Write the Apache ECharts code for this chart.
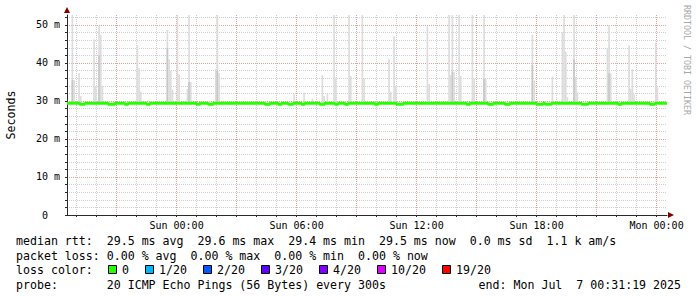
<!DOCTYPE html>
<html><head><meta charset="utf-8">
<script src="https://cdn.jsdelivr.net/npm/echarts@6/dist/echarts.min.js"></script>
<style>html,body{margin:0;padding:0;background:#fff}#c{width:697px;height:297px}</style>
</head><body><div id="c"></div>
<script>
// ---------- data ----------
const dayDate = { Sat: '2025-07-05', Sun: '2025-07-06', Mon: '2025-07-07' };
const startTime = 'Sat 18:31:19';
const endTime = 'Mon 00:31:19';
const yMax = 52.63;               // ms, top of plot
const yMajorTicks = [0, 10, 20, 30, 40, 50];
const yMinorTicks = [2, 4, 6, 8, 12, 14, 16, 18, 22, 24, 26, 28, 32, 34, 36, 38, 42, 44, 46, 48, 52];
const xLabelTimes = ['Sun 00:00', 'Sun 06:00', 'Sun 12:00', 'Sun 18:00', 'Mon 00:00'];
const xMajorTimes = ['Sat 21:00', 'Sun 00:00', 'Sun 03:00', 'Sun 06:00', 'Sun 09:00', 'Sun 12:00', 'Sun 15:00', 'Sun 18:00', 'Sun 21:00', 'Mon 00:00'];
const xMinorTimes = ['Sat 19:00', 'Sat 20:00', 'Sat 22:00', 'Sat 23:00', 'Sun 01:00', 'Sun 02:00', 'Sun 04:00', 'Sun 05:00', 'Sun 07:00', 'Sun 08:00', 'Sun 10:00', 'Sun 11:00', 'Sun 13:00', 'Sun 14:00', 'Sun 16:00', 'Sun 17:00', 'Sun 19:00', 'Sun 20:00', 'Sun 22:00', 'Sun 23:00'];

const stepMinutes = 5;            // rrd step (300 s)
const smokeBase = 29.4;           // ms, lowest ping
const smokeTime = ['Sat 18:45', 'Sat 18:50', 'Sat 19:05', 'Sat 19:10', 'Sat 19:50', 'Sat 19:55', 'Sat 20:05', 'Sat 20:10', 'Sat 20:15', 'Sat 22:00', 'Sat 22:05', 'Sat 22:10', 'Sat 23:30', 'Sat 23:35', 'Sat 23:40', 'Sat 23:45',
  'Sun 00:00', 'Sun 00:05', 'Sun 00:30', 'Sun 00:35', 'Sun 00:40', 'Sun 01:55', 'Sun 02:00', 'Sun 02:05', 'Sun 05:50', 'Sun 06:20', 'Sun 06:45', 'Sun 07:15', 'Sun 07:20', 'Sun 07:30', 'Sun 07:50', 'Sun 07:55',
  'Sun 08:35', 'Sun 08:40', 'Sun 09:15', 'Sun 09:20', 'Sun 10:35', 'Sun 10:40', 'Sun 10:50', 'Sun 10:55', 'Sun 12:30', 'Sun 12:35', 'Sun 13:35', 'Sun 13:40', 'Sun 13:45', 'Sun 13:50', 'Sun 14:05', 'Sun 14:10',
  'Sun 14:45', 'Sun 14:50', 'Sun 15:20', 'Sun 15:25', 'Sun 17:45', 'Sun 17:50', 'Sun 18:45', 'Sun 19:15', 'Sun 19:20', 'Sun 19:25', 'Sun 19:30', 'Sun 19:50', 'Sun 19:55', 'Sun 20:00', 'Sun 21:30', 'Sun 21:35',
  'Sun 21:40', 'Sun 22:35', 'Sun 22:40', 'Sun 22:45', 'Sun 22:50', 'Sun 23:55', 'Mon 00:00'];
const smokeTop = [52.6, 35.5, 37.4, 31.3, 46.2, 33.9, 49.8, 47.4, 34, 44.7, 38.6, 32.5, 48.7, 41, 38, 33,
  52.6, 37, 33.2, 52.6, 35, 38.4, 52.6, 37.4, 31.8, 32.2, 30.6, 36.8, 31.3, 31.8, 52.6, 36.2,
  52.6, 36.6, 52.6, 36, 41, 32.4, 47, 34, 49.6, 34.5, 52.6, 36.8, 52.6, 37.7, 52.6, 36.6,
  52.6, 35.9, 52.6, 35.8, 47.4, 35.4, 36.4, 48.2, 52.6, 43, 31, 52.6, 36.4, 32.3, 44, 50,
  37.3, 44.6, 33.2, 38.4, 31.8, 45.4, 33.5];
const smokeDark = [35.5, 0, 0, 0, 0, 0, 42, 0, 0, 0, 0, 0, 44, 0, 0, 0,
  0, 0, 0, 35, 0, 0, 38, 0, 0, 0, 0, 0, 0, 0, 0, 0,
  0, 0, 0, 0, 0, 0, 0, 0, 0, 0, 0, 0, 37.7, 0, 0, 0,
  0, 0, 35.8, 0, 39.5, 0, 0, 0, 0, 0, 0, 41, 0, 0, 0, 37.3,
  0, 0, 0, 0, 0, 0, 0];

const medianTime = ['Sat 18:31', 'Sat 19:10', 'Sat 19:25', 'Sat 20:35', 'Sat 20:55', 'Sat 21:25', 'Sat 21:35', 'Sat 22:30', 'Sat 22:40', 'Sun 01:00', 'Sun 01:10', 'Sun 01:35', 'Sun 01:50', 'Sun 04:25', 'Sun 04:40', 'Sun 05:05',
  'Sun 05:15', 'Sun 05:35', 'Sun 05:50', 'Sun 06:15', 'Sun 06:25', 'Sun 07:10', 'Sun 07:25', 'Sun 07:55', 'Sun 08:05', 'Sun 08:25', 'Sun 08:35', 'Sun 09:55', 'Sun 10:05', 'Sun 11:00', 'Sun 11:20', 'Sun 14:30',
  'Sun 14:40', 'Sun 15:35', 'Sun 15:50', 'Sun 16:25', 'Sun 16:40', 'Sun 18:00', 'Sun 18:20', 'Sun 18:25', 'Sun 18:45', 'Sun 20:15', 'Sun 20:35', 'Sun 22:05', 'Sun 22:15', 'Sun 23:40', 'Sun 23:55', 'Mon 00:31'];
const medianValue = [29.4, 29.15, 29.4, 29.15, 29.4, 29.15, 29.4, 29.15, 29.4, 29.15, 29.4, 29.15, 29.4, 29.15, 29.4, 29.15,
  29.4, 29.15, 29.4, 29.15, 29.4, 29.15, 29.4, 29.15, 29.4, 29.15, 29.4, 29.15, 29.4, 29.15, 29.4, 29.15,
  29.4, 29.15, 29.4, 29.15, 29.4, 29.15, 29.4, 29.15, 29.4, 29.15, 29.4, 29.15, 29.4, 29.15, 29.4, 29.4];

const lossLabels = ['0', '1/20', '2/20', '3/20', '4/20', '10/20', '19/20'];
const lossColors = ['#26ff00', '#00b8ff', '#0059ff', '#5e00ff', '#7e00ff', '#dd00ff', '#ff0000'];

const legendLine1 = 'median rtt:  29.5 ms avg  29.6 ms max  29.4 ms min  29.5 ms now  0.0 ms sd  1.1 k am/s';
const legendLine2 = 'packet loss: 0.00 % avg  0.00 % max  0.00 % min  0.00 % now';
const legendLossTitle = 'loss color:';
const legendProbe = 'probe:       20 ICMP Echo Pings (56 Bytes) every 300s';
const legendEnd = 'end: Mon Jul  7 00:31:19 2025';
const yAxisTitle = 'Seconds';
const watermark = 'RRDTOOL / TOBI OETIKER';

// ---------- helpers ----------
const dayNames = ['Sun', 'Mon', 'Tue', 'Wed', 'Thu', 'Fri', 'Sat'];
function T(s) {
  const [day, clock] = s.split(' ');
  const [Y, M, D] = dayDate[day].split('-').map(Number);
  const [h, m, sec] = clock.split(':').map(Number);
  return Date.UTC(Y, M - 1, D, h, m, sec || 0);
}
function pad(n) { return (n < 10 ? '0' : '') + n; }
function fmtX(v) {
  const d = new Date(v);
  return dayNames[d.getUTCDay()] + ' ' + pad(d.getUTCHours()) + ':' + pad(d.getUTCMinutes());
}
const STEP = stepMinutes * 60000;
const tMin = T(startTime), tMax = T(endTime);

const MONO = "'DejaVu Sans Mono', monospace";
const MAJOR = '#e3a0a0', MINOR = '#cfcfcf', AXIS = '#2a2a2a', ARROW = '#7f0000';

const smokeData = smokeTime.map((s, i) => [T(s), smokeTop[i], smokeDark[i]]);
const medianData = medianTime.map((s, i) => [T(s), medianValue[i]]);

const chart = echarts.init(document.getElementById('c'), null, { renderer: 'svg', width: 697, height: 297 });

// legend graphics
const LX = 16, FS = 11.6;
const rows = [241, 255.5, 270, 284.5];
const gfx = [];
function txt(x, y, s, extra) {
  gfx.push(Object.assign({ type: 'text', x: x, y: y, silent: true,
    style: Object.assign({ text: s, font: FS + 'px ' + MONO, fill: '#000', textVerticalAlign: 'middle', verticalAlign: 'middle', textAlign: 'left', align: 'left' }, extra || {}) }));
}
txt(LX, rows[0], legendLine1);
txt(LX, rows[1], legendLine2);
txt(LX, rows[2], legendLossTitle);
let bx = 108;
lossLabels.forEach((lab, i) => {
  gfx.push({ type: 'rect', silent: true, shape: { x: bx + 0.5, y: rows[2] - 4.5, width: 8, height: 8 }, style: { fill: lossColors[i], stroke: '#000', lineWidth: 1 } });
  txt(bx + 14, rows[2], lab);
  bx += 14 + lab.length * 7 + 16;
});
txt(LX, rows[3], legendProbe);
txt(681, rows[3], legendEnd, { textAlign: 'right', align: 'right' });
gfx.push({ type: 'text', x: 687, y: 60, rotation: -Math.PI / 2, silent: true,
  style: { text: watermark, font: '8.3px ' + MONO, fill: '#a8a8a8', textAlign: 'center', align: 'center', textVerticalAlign: 'middle', verticalAlign: 'middle' } });

const option = {
  animation: false,
  backgroundColor: '#fff',
  grid: { left: 67, top: 15, width: 600, height: 200, containLabel: false, outerBoundsMode: 'none' },
  xAxis: [
    { type: 'value', min: tMin, max: tMax, position: 'bottom', z: 1,
      axisLine: { show: true, onZero: false, lineStyle: { color: AXIS, width: 1 } },
      axisTick: { show: true, customValues: xMajorTimes.map(T), length: 2, inside: false, lineStyle: { color: AXIS } },
      axisLabel: { show: true, customValues: xLabelTimes.map(T), formatter: fmtX, margin: 5, color: '#000', fontFamily: MONO, fontSize: 10 },
      splitLine: { show: true, lineStyle: { color: MAJOR, type: [1, 1], width: 1 } } },
    { type: 'value', min: tMin, max: tMax, position: 'bottom', z: 0,
      axisLine: { show: true, onZero: false, symbol: ['none', 'triangle'], symbolSize: [6, 6], symbolOffset: [0, 4], lineStyle: { color: ARROW, width: 0 } },
      axisTick: { show: true, customValues: xMinorTimes.map(T), length: 2, lineStyle: { color: AXIS } },
      axisLabel: { show: false },
      splitLine: { show: true, lineStyle: { color: MINOR, type: [1, 1], width: 1 } } }
  ],
  yAxis: [
    { type: 'value', min: 0, max: yMax, position: 'left', z: 1,
      name: yAxisTitle, nameLocation: 'middle', nameGap: 50, nameRotate: 90,
      nameTextStyle: { color: '#000', fontFamily: MONO, fontSize: FS },
      axisLine: { show: true, onZero: false, lineStyle: { color: AXIS, width: 1 } },
      axisTick: { show: true, customValues: yMajorTicks, length: 2, lineStyle: { color: AXIS } },
      axisLabel: { show: true, customValues: yMajorTicks, margin: 7, color: '#000', fontFamily: MONO, fontSize: 10,
        formatter: v => v === 0 ? '0\u00a0\u00a0' : v + ' m' },
      splitLine: { show: true, lineStyle: { color: MAJOR, type: [1, 1], width: 1 } } },
    { type: 'value', min: 0, max: yMax, position: 'left', z: 0,
      axisLine: { show: true, onZero: false, symbol: ['none', 'triangle'], symbolSize: [6, 6], symbolOffset: [0, 5], lineStyle: { color: ARROW, width: 0 } },
      axisTick: { show: true, customValues: yMinorTicks, length: 2, lineStyle: { color: AXIS } },
      axisLabel: { show: false },
      splitLine: { show: true, lineStyle: { color: MINOR, type: [1, 1], width: 1 } } }
  ],
  series: [
    { type: 'custom', name: 'smoke', xAxisIndex: 0, yAxisIndex: 0, clip: true, z: 2,
      data: smokeData,
      encode: { x: 0, y: [1, 2] },
      renderItem: function (params, api) {
        const t = api.value(0), top = api.value(1), dark = api.value(2);
        const p0 = api.coord([t, smokeBase]);
        const p1 = api.coord([t + STEP, top]);
        const children = [{ type: 'rect', shape: { x: p0[0], y: p1[1], width: p1[0] - p0[0], height: p0[1] - p1[1] }, style: { fill: '#dcdcdc' } }];
        if (dark > 0) {
          const p2 = api.coord([t + STEP, dark]);
          children.push({ type: 'rect', shape: { x: p0[0], y: p2[1], width: p2[0] - p0[0], height: p0[1] - p2[1] }, style: { fill: '#c6c6c6' } });
        }
        return { type: 'group', children: children };
      } },
    { type: 'line', name: 'median', xAxisIndex: 0, yAxisIndex: 0, data: medianData, step: 'end',
      showSymbol: false, symbol: 'none', z: 3, silent: true,
      lineStyle: { color: lossColors[0], width: 3 } }
  ],
  graphic: gfx
};
chart.setOption(option);
</script>
</body></html>
